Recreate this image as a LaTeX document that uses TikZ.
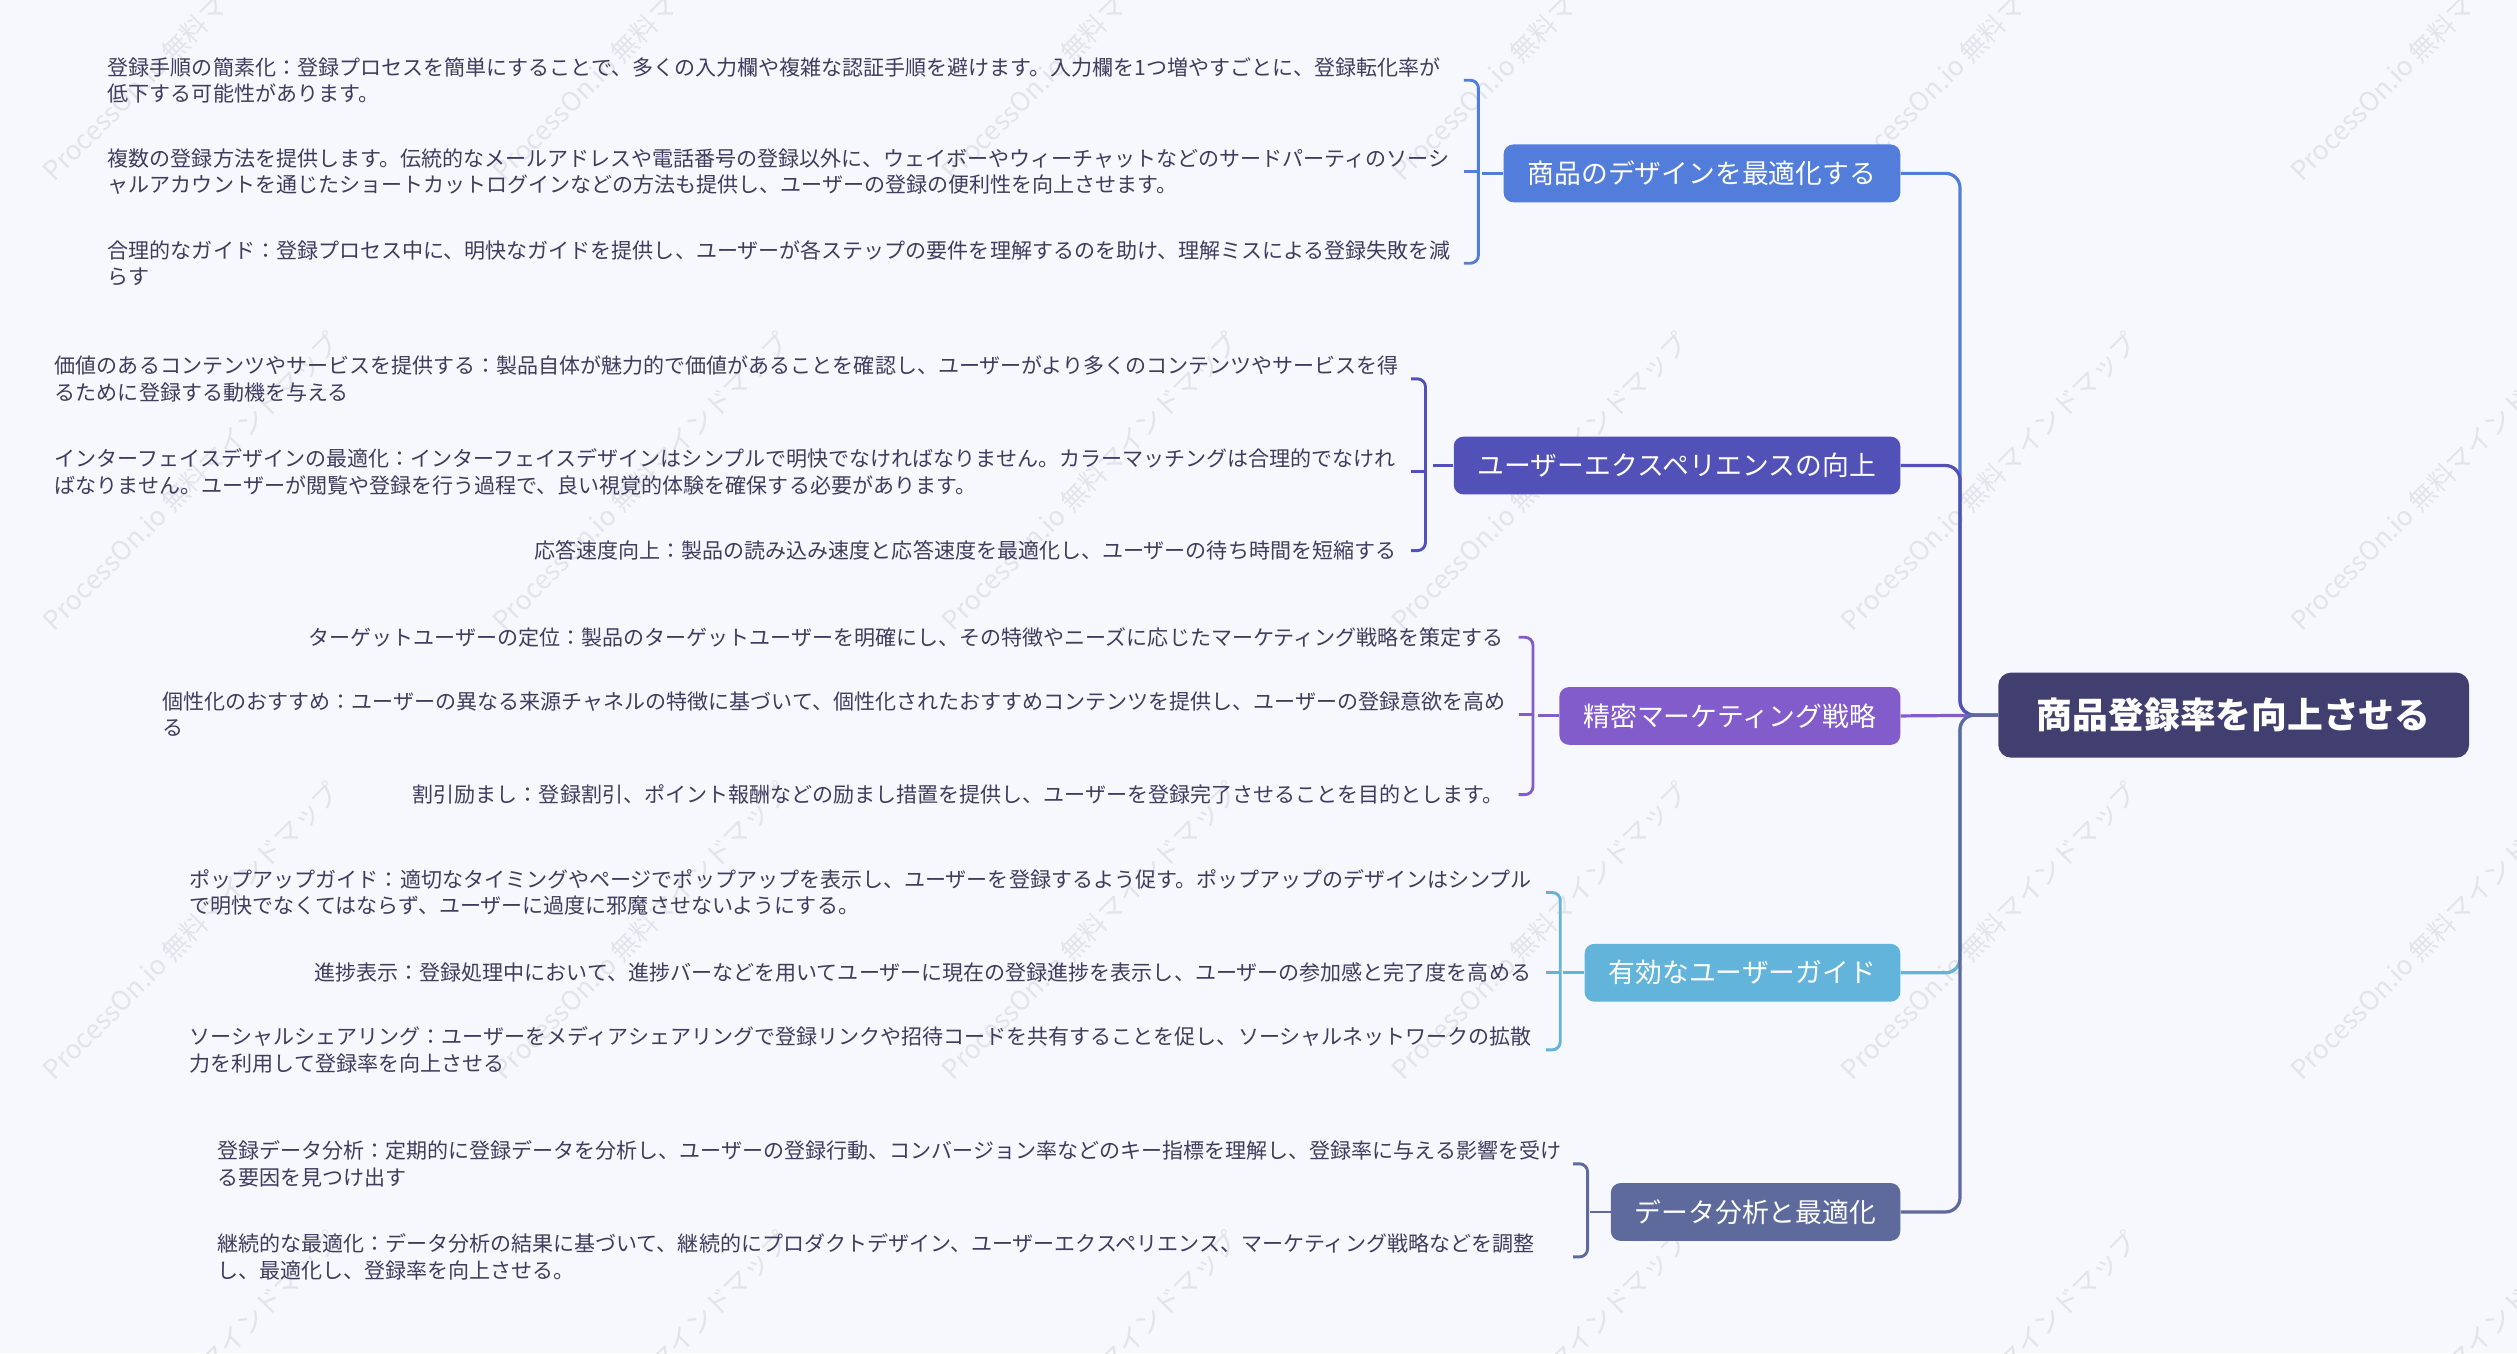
\documentclass[tikz,border=0pt]{standalone}
\usepackage{fontspec}
\setmainfont{Noto Sans CJK JP}
\usetikzlibrary{positioning}
\definecolor{bg}{HTML}{F7F8FD}
\definecolor{rootc}{HTML}{413F6F}
\definecolor{c1}{HTML}{527DDA}
\definecolor{c2}{HTML}{5251B7}
\definecolor{c3}{HTML}{835CCB}
\definecolor{c4}{HTML}{62B4DA}
\definecolor{c5}{HTML}{5D6A9B}
\definecolor{txt}{HTML}{3E3D5F}
\definecolor{wm}{HTML}{E3E4EB}
\tikzset{
  rootbox/.style={fill=rootc, rounded corners=8pt, text=white,
    font=\fontsize{22.3}{26}\selectfont\bfseries, minimum height=53pt,
    inner xsep=24pt, inner ysep=0pt},
  branchbox/.style={rounded corners=6pt, text=white,
    font=\fontsize{16.7}{20}\selectfont, minimum height=36pt,
    inner xsep=15pt, inner ysep=0pt, anchor=east},
  leaf/.style={text=txt, font=\fontsize{13.1}{16.5}\selectfont, align=left,
    inner sep=0pt},
  leafw/.style={leaf, anchor=west},
  link/.style={line width=2pt},
  brk/.style={line width=1.8pt, rounded corners=5pt},
  wmark/.style={text=wm, font=\fontsize{16.5}{16.5}\selectfont, rotate=45,
    anchor=south west, inner sep=0pt}
}
\begin{document}
\begin{tikzpicture}[x=1pt,y=-1pt]
\fill[bg] (0,0) rectangle (1568,843);
\useasboundingbox (0,0) rectangle (1568,843);
% watermarks
\foreach \i in {0,...,5}{\foreach \j in {0,...,3}{
  \node[wmark] (wm-\i-\j) at ({35+280*\i},{115+280*\j}) {ProcessOn.io 無料マインドマップ};
}}
% root
\node[rootbox] (root) at (1391.5,445.5) {商品登録率を向上させる};
% branches
\node[branchbox, fill=c1] (b1) at (1184,108) {商品のデザインを最適化する};
\node[branchbox, fill=c2] (b2) at (1184,290) {ユーザーエクスペリエンスの向上};
\node[branchbox, fill=c3] (b3) at (1184,446) {精密マーケティング戦略};
\node[branchbox, fill=c4] (b4) at (1184,606) {有効なユーザーガイド};
\node[branchbox, fill=c5] (b5) at (1184,755) {データ分析と最適化};
% trunk
\coordinate (tr) at (1221,445.5);
\draw[link,c1] (b1.east) [rounded corners=9pt] -| (tr) [sharp corners] -- (root.west);
\draw[link,c4] (b4.east) [rounded corners=9pt] -| (tr) [sharp corners] -- (root.west);
\draw[link,c2] (b2.east) [rounded corners=9pt] -| (tr) [sharp corners] -- (root.west);
\draw[link,c3] (b3.east) -- (root.west);
\draw[link,c5] (b5.east) [rounded corners=9pt] -| (tr) [sharp corners] -- (root.west);

% ---------- branch 1 leaves
\coordinate (k1a) at (912,50);
\coordinate (k1b) at (912,107);
\coordinate (k1c) at (912,164);
\draw[brk,c1] (k1a) -- ++(9,0) |- (k1c);
\draw[brk,c1] (k1b) -- ++(9,0);
\draw[brk,c1] (b1.west) -- ++(-13,0);
\node[leafw] (l1a) at (67,50) {登録手順の簡素化：登録プロセスを簡単にすることで、多くの入力欄や複雑な認証手順を避けます。入力欄を1つ増やすごとに、登録転化率が\\低下する可能性があります。};
\node[leafw] (l1b) at (67,107) {複数の登録方法を提供します。伝統的なメールアドレスや電話番号の登録以外に、ウェイボーやウィーチャットなどのサードパーティのソーシ\\ャルアカウントを通じたショートカットログインなどの方法も提供し、ユーザーの登録の便利性を向上させます。};
\node[leafw] (l1c) at (67,164) {合理的なガイド：登録プロセス中に、明快なガイドを提供し、ユーザーが各ステップの要件を理解するのを助け、理解ミスによる登録失敗を減\\らす};

% ---------- branch 2 leaves
\coordinate (k2a) at (879,236);
\coordinate (k2b) at (879,294);
\coordinate (k2c) at (879,343);
\draw[brk,c2] (k2a) -- ++(9,0) |- (k2c);
\draw[brk,c2] (k2b) -- ++(9,0);
\draw[brk,c2] (b2.west) -- ++(-13,0);
\node[leafw] (l2a) at (34,236) {価値のあるコンテンツやサービスを提供する：製品自体が魅力的で価値があることを確認し、ユーザーがより多くのコンテンツやサービスを得\\るために登録する動機を与える};
\node[leafw] (l2b) at (34,294) {インターフェイスデザインの最適化：インターフェイスデザインはシンプルで明快でなければなりません。カラーマッチングは合理的でなけれ\\ばなりません。ユーザーが閲覧や登録を行う過程で、良い視覚的体験を確保する必要があります。};
\node[leaf, left=9pt of k2c] (l2c) {応答速度向上：製品の読み込み速度と応答速度を最適化し、ユーザーの待ち時間を短縮する};

% ---------- branch 3 leaves
\coordinate (k3a) at (946,397);
\coordinate (k3b) at (946,445);
\coordinate (k3c) at (946,495);
\draw[brk,c3] (k3a) -- ++(9,0) |- (k3c);
\draw[brk,c3] (k3b) -- ++(9,0);
\draw[brk,c3] (b3.west) -- ++(-13,0);
\node[leaf, left=9pt of k3a] (l3a) {ターゲットユーザーの定位：製品のターゲットユーザーを明確にし、その特徴やニーズに応じたマーケティング戦略を策定する};
\node[leafw] (l3b) at (101,445) {個性化のおすすめ：ユーザーの異なる来源チャネルの特徴に基づいて、個性化されたおすすめコンテンツを提供し、ユーザーの登録意欲を高め\\る};
\node[leaf, left=9pt of k3c] (l3c) {割引励まし：登録割引、ポイント報酬などの励まし措置を提供し、ユーザーを登録完了させることを目的とします。};

% ---------- branch 4 leaves
\coordinate (k4a) at (963,556);
\coordinate (k4b) at (963,606);
\coordinate (k4c) at (963,654);
\draw[brk,c4] (k4a) -- ++(9,0) |- (k4c);
\draw[brk,c4] (k4b) -- ++(9,0);
\draw[brk,c4] (b4.west) -- ++(-13,0);
\node[leafw] (l4a) at (118,556) {ポップアップガイド：適切なタイミングやページでポップアップを表示し、ユーザーを登録するよう促す。ポップアップのデザインはシンプル\\で明快でなくてはならず、ユーザーに過度に邪魔させないようにする。};
\node[leaf, left=9pt of k4b] (l4b) {進捗表示：登録処理中において、進捗バーなどを用いてユーザーに現在の登録進捗を表示し、ユーザーの参加感と完了度を高める};
\node[leafw] (l4c) at (118,654) {ソーシャルシェアリング：ユーザーをメディアシェアリングで登録リンクや招待コードを共有することを促し、ソーシャルネットワークの拡散\\力を利用して登録率を向上させる};

% ---------- branch 5 leaves
\coordinate (k5a) at (980,725);
\coordinate (k5b) at (980,783);
\draw[brk,c5] (k5a) -- ++(9,0) |- (k5b);
\draw[brk,c5] (b5.west) -- ++(-13,0);
\node[leafw] (l5a) at (135,725) {登録データ分析：定期的に登録データを分析し、ユーザーの登録行動、コンバージョン率などのキー指標を理解し、登録率に与える影響を受け\\る要因を見つけ出す};
\node[leafw] (l5b) at (135,783) {継続的な最適化：データ分析の結果に基づいて、継続的にプロダクトデザイン、ユーザーエクスペリエンス、マーケティング戦略などを調整\\し、最適化し、登録率を向上させる。};
\end{tikzpicture}
\end{document}
